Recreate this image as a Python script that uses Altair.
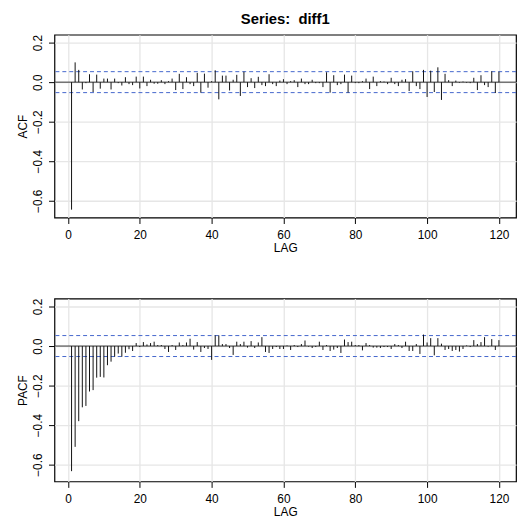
import altair as alt
import pandas as pd

lags = list(range(1, 121))

acf_vals = [
    -0.645, 0.100, 0.062, -0.037, -0.005, 0.040, -0.050, 0.038, -0.033, 0.018,
    0.018, -0.037, 0.018, -0.005, -0.017, 0.025, -0.010, -0.015, 0.028, -0.032,
    0.028, -0.020, 0.012, -0.008, -0.008, 0.010, -0.010, 0.005, 0.018, -0.040,
    0.042, -0.035, 0.025, -0.010, -0.020, 0.047, -0.053, 0.043, -0.028, 0.005,
    0.060, -0.087, 0.033, 0.033, -0.042, 0.012, 0.037, -0.070, 0.053, -0.025,
    0.020, -0.030, 0.027, -0.015, -0.020, 0.040, -0.010, -0.020, 0.008, 0.015,
    -0.010, 0.005, 0.010, -0.025, 0.018, -0.010, -0.010, 0.012, -0.005, -0.005,
    -0.025, 0.050, -0.053, 0.035, -0.015, -0.010, 0.038, -0.053, 0.033, -0.005,
    -0.005, 0.005, 0.018, -0.035, 0.028, -0.020, 0.005, 0.003, -0.010, 0.022,
    -0.010, -0.020, 0.012, 0.015, -0.045, 0.055, -0.020, -0.035, 0.062, -0.075,
    0.058, -0.050, 0.075, -0.090, 0.042, 0.010, -0.020, 0.008, -0.003, 0.003,
    -0.003, -0.005, 0.022, -0.040, 0.035, -0.015, -0.025, 0.055, -0.055, 0.053,
]

pacf_vals = [
    -0.633, -0.510, -0.380, -0.310, -0.303, -0.230, -0.223, -0.160, -0.156, -0.159,
    -0.097, -0.079, -0.054, -0.038, -0.054, -0.034, -0.016, -0.025, 0.015, -0.005,
    0.020, 0.008, 0.015, 0.022, 0.005, 0.005, -0.015, -0.030, 0.005, -0.020,
    0.018, 0.005, 0.018, 0.037, -0.018, 0.020, -0.030, -0.010, -0.015, -0.070,
    0.054, 0.054, 0.010, 0.010, -0.010, -0.045, 0.022, 0.010, 0.022, -0.008,
    0.025, -0.010, 0.018, 0.045, -0.030, -0.035, -0.015, -0.005, -0.015, -0.015,
    0.003, -0.020, 0.005, -0.005, 0.010, 0.028, -0.003, -0.010, -0.005, 0.022,
    -0.020, 0.005, -0.025, -0.018, -0.010, -0.035, 0.033, 0.020, 0.022, 0.005,
    0.005, -0.022, 0.015, 0.005, -0.008, -0.008, -0.010, -0.005, -0.005, -0.015,
    0.010, 0.005, -0.010, 0.022, -0.025, -0.025, 0.010, -0.040, 0.058, 0.018,
    0.040, -0.047, 0.040, 0.012, -0.020, -0.015, -0.025, -0.020, -0.028, -0.015,
    0.003, -0.005, 0.030, 0.010, 0.020, 0.045, -0.003, 0.035, -0.020, 0.030,
]

conf_bounds = [0.053, -0.053]
x_ticks = [0, 20, 40, 60, 80, 100, 120]
y_ticks = [-0.6, -0.4, -0.2, 0.0, 0.2]
main_title = ["Series:\u00a0\u00a0diff1"]

FONT = "Liberation Sans"
W, H = 467, 185
X_DOM = [-3.76, 124.76]
Y_DOM = [-0.685, 0.24]


def panel(values, ylabel, title=None, lab_pad=15, lag_y=34):
    df = pd.DataFrame({"lag": lags, "val": values})
    xs = alt.Scale(domain=X_DOM, nice=False, zero=False)
    ys = alt.Scale(domain=Y_DOM, nice=False, zero=False)
    xaxis = alt.Axis(values=x_ticks, title="LAG", grid=True, gridColor="#e6e6e6",
                     gridWidth=1.3, domain=False, tickSize=6, tickColor="#000",
                     labelFont=FONT, labelFontSize=12, labelColor="#000",
                     labelBaseline="alphabetic", labelPadding=lab_pad,
                     titleFont=FONT, titleFontSize=12, titleFontWeight="normal",
                     titleColor="#000", titleBaseline="alphabetic",
                     titleX=W / 2, titleY=lag_y, titleAlign="center")
    yaxis = alt.Axis(values=y_ticks, title=ylabel, format=".1f", grid=True,
                     gridColor="#e6e6e6", gridWidth=1.3, domain=False, tickSize=6,
                     tickColor="#000", labelFont=FONT, labelFontSize=12,
                     labelColor="#000", labelAngle=270, labelAlign="center",
                     labelBaseline="alphabetic", labelPadding=7,
                     titleFont=FONT, titleFontSize=12, titleFontWeight="normal",
                     titleColor="#000", titleAngle=270, titleAlign="center",
                     titleBaseline="alphabetic", titleX=-28.5, titleY=H / 2)
    base = alt.Chart(df)
    bars = base.mark_rule(color="#111", strokeWidth=1).encode(
        x=alt.X("lag:Q", scale=xs, axis=xaxis),
        y=alt.Y("val:Q", scale=ys, axis=yaxis),
        y2=alt.datum(0),
    )
    zero = alt.Chart(pd.DataFrame({"z": [0.0]})).mark_rule(
        color="#333", strokeWidth=1).encode(y=alt.Y("z:Q", scale=ys))
    conf = alt.Chart(pd.DataFrame({"c": conf_bounds})).mark_rule(
        color="#4466cc", strokeWidth=1, strokeDash=[4, 3]).encode(
        y=alt.Y("c:Q", scale=ys))
    layers = [conf, zero, bars]
    if title is not None:
        ttl = alt.Chart(pd.DataFrame({"t": title})).mark_text(
            font=FONT, fontSize=15, fontWeight="bold", color="#000",
            align="center", baseline="alphabetic").encode(
            x=alt.value(W / 2), y=alt.value(-10.5), text="t:N")
        layers.append(ttl)
    return alt.layer(*layers).properties(width=W, height=H)


top = panel(acf_vals, "ACF", main_title, lab_pad=15, lag_y=34)
bottom = panel(pacf_vals, "PACF", lab_pad=15, lag_y=34)

chart = alt.vconcat(top, bottom, spacing=82, bounds="flush").properties(
    padding={"left": 7, "top": 0, "right": 0, "bottom": 0}
).configure_view(stroke="#000", strokeWidth=1.2)

chart.save("out.html", embed_options={"renderer": "svg", "actions": False})
